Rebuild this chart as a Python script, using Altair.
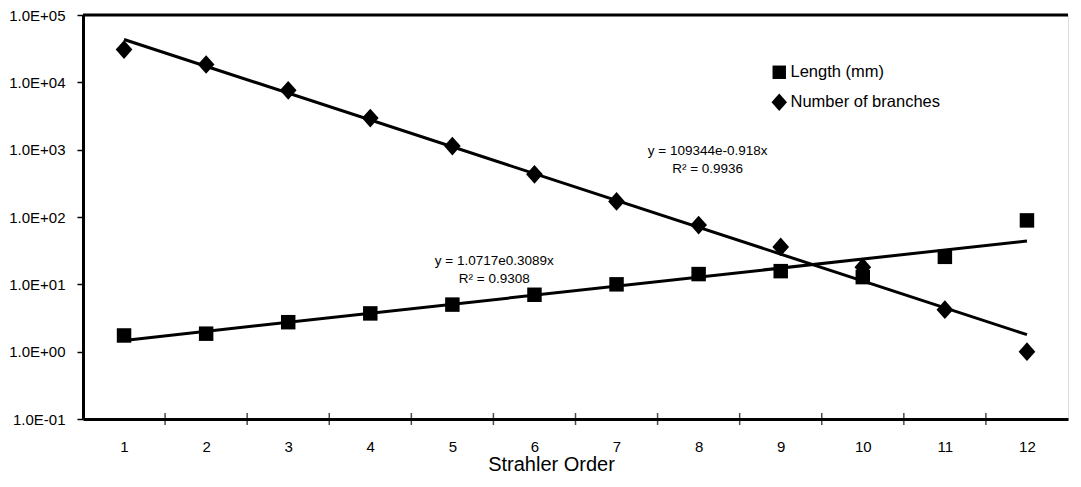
import altair as alt
import pandas as pd

# ---- data ----
orders = [1, 2, 3, 4, 5, 6, 7, 8, 9, 10, 11, 12]
length_mm = [1.74, 1.85, 2.74, 3.7, 5.0, 7.0, 10.0, 14.2, 15.7, 12.8, 25.6, 89.0]
branches = [30700, 18400, 7600, 2950, 1130, 430, 170, 76, 36, 18, 4.2, 1.0]
series_names = ["Length (mm)", "Number of branches"]
y_ticks = [0.1, 1, 10, 100, 1000, 10000, 100000]
eq_branches = "y = 109344e-0.918x\nR\u00b2 = 0.9936"
eq_length = "y = 1.0717e0.3089x\nR\u00b2 = 0.9308"

FONT = "Liberation Sans"
W, H = 985, 404
SQUARE = "M-0.85,-0.85L0.85,-0.85L0.85,0.85L-0.85,0.85Z"
DIAMOND = "M0,-1.1L0.98,0L0,1.1L-0.98,0Z"

# branches first so that the squares are drawn on top of them
rows = [{"order": o, "value": v, "series": series_names[1]} for o, v in zip(orders, branches)]
rows += [{"order": o, "value": v, "series": series_names[0]} for o, v in zip(orders, length_mm)]
df = pd.DataFrame(rows)
bounds = pd.DataFrame({"b": [o + 0.5 for o in orders[:-1]]})
one = pd.DataFrame({"k": [0]})

xscale = alt.Scale(domain=[0.5, 12.5], nice=False, zero=False)
yscale = alt.Scale(type="log", domain=[0.1, 100000], nice=False)

label_expr = ("'1.0E' + (datum.value >= 1 ? '+' : '-') + "
              "(abs(round(log(datum.value)/LN10)) < 10 ? '0' : '') + "
              "abs(round(log(datum.value)/LN10))")

x_enc = alt.X("order:Q", scale=xscale,
              axis=alt.Axis(values=orders, format="d", title="Strahler Order",
                            tickSize=0, labelPadding=20, labelFontSize=15,
                            titleFontSize=20, titlePadding=0, titleFontWeight="normal",
                            titleX=468, titleAlign="center",
                            domainWidth=3, domainColor="black", grid=False,
                            labelColor="black", titleColor="black",
                            labelFont=FONT, titleFont=FONT))
y_enc = alt.Y("value:Q", scale=yscale,
              axis=alt.Axis(values=y_ticks, labelExpr=label_expr, title=None,
                            tickSize=6, tickWidth=1.5, tickColor="black",
                            labelPadding=12, labelFontSize=15, labelFont=FONT,
                            labelColor="black", domainWidth=3, domainColor="black",
                            grid=False))

base = alt.Chart(df)

trend = base.transform_calculate(
    logv="log(datum.value)"
).transform_regression(
    "order", "logv", method="linear", groupby=["series"], extent=[1, 12]
).transform_calculate(
    value="exp(datum.logv)"
).mark_line(color="black", strokeWidth=3).encode(
    x=x_enc, y=y_enc, detail="series:N"
)

points = base.mark_point(filled=True, opacity=1, color="black", size=290).encode(
    x=alt.X("order:Q", scale=xscale),
    y=alt.Y("value:Q", scale=yscale),
    shape=alt.Shape("series:N", sort=None,
                    scale=alt.Scale(domain=series_names, range=[SQUARE, DIAMOND]),
                    legend=alt.Legend(title=None, orient="none", legendX=688, legendY=49,
                                      labelFont=FONT, labelFontSize=16.5, labelColor="black",
                                      symbolFillColor="black", symbolStrokeColor="black",
                                      symbolStrokeWidth=0, symbolSize=250,
                                      labelOffset=3, rowPadding=12, padding=0)),
)

cross_ticks = alt.Chart(bounds).mark_tick(
    color="black", orient="vertical", size=12, thickness=1.5
).encode(
    x=alt.X("b:Q", scale=xscale),
    y=alt.value(H),
)

top_border = alt.Chart(one).mark_rule(color="black", strokeWidth=3).encode(
    x=alt.value(0), x2=alt.value(W), y=alt.value(0)
)

eq1 = alt.Chart(one).mark_text(
    text=eq_branches, lineBreak="\n", lineHeight=18, font=FONT, fontSize=13.5,
    color="black", align="center", baseline="middle"
).encode(x=alt.datum(8.11, scale=xscale), y=alt.datum(944, scale=yscale))

eq2 = alt.Chart(one).mark_text(
    text=eq_length, lineBreak="\n", lineHeight=18, font=FONT, fontSize=13.5,
    color="black", align="center", baseline="middle"
).encode(x=alt.datum(5.51, scale=xscale), y=alt.datum(22, scale=yscale))

chart = alt.layer(trend, points, cross_ticks, top_border, eq1, eq2).properties(
    width=W, height=H, padding={"left": 0, "top": 0, "right": 0, "bottom": 0}
).configure_view(stroke=None).configure(background="white")

chart.save("out.html", embed_options={"renderer": "svg", "actions": False})
